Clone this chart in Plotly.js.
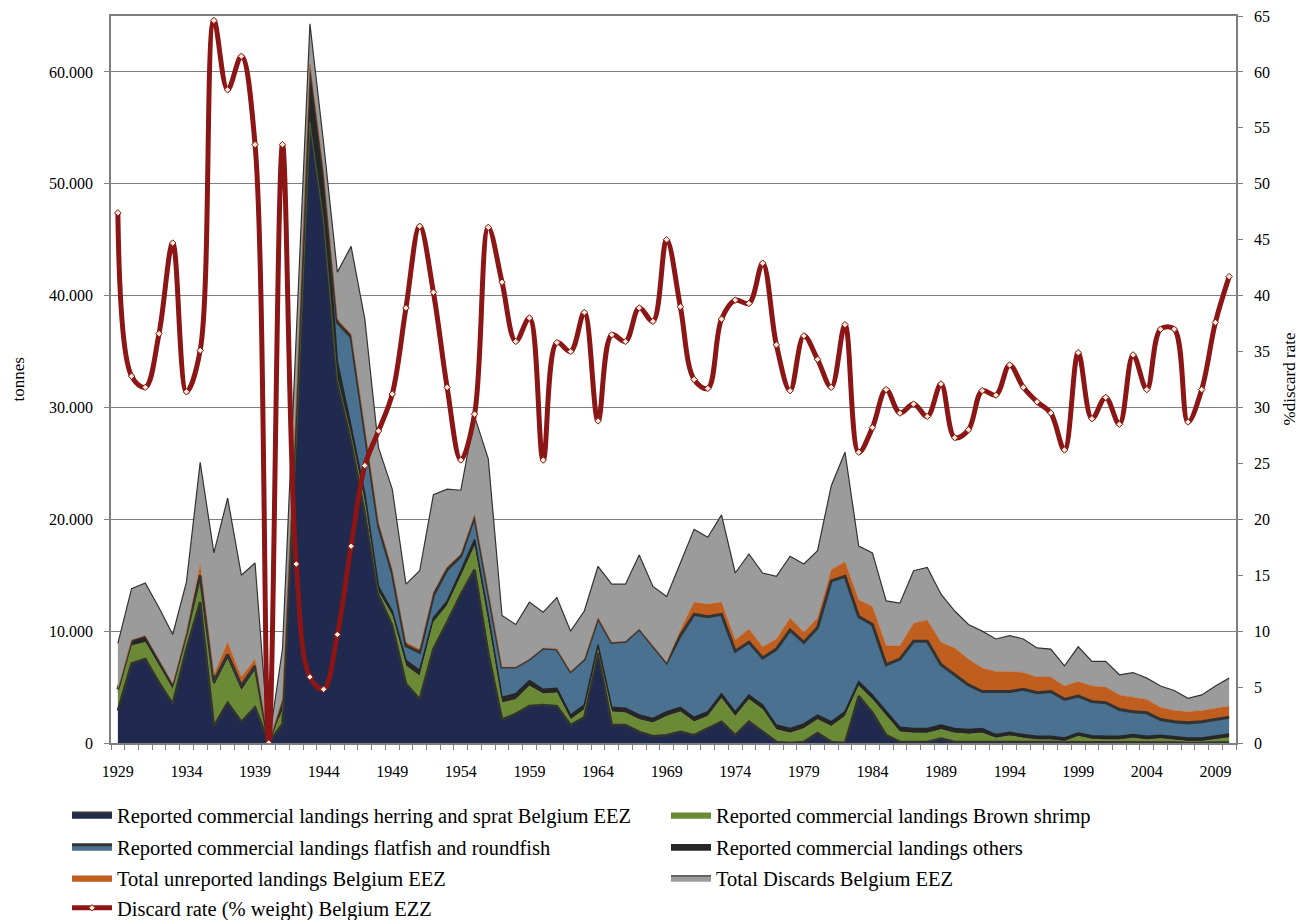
<!DOCTYPE html>
<html>
<head>
<meta charset="utf-8">
<script src="https://cdn.plot.ly/plotly-3.0.1.min.js"></script>
<style>
  html, body { margin: 0; padding: 0; background: #ffffff; }
  #chart { width: 1304px; height: 920px; }
</style>
</head>
<body>
<div id="chart"></div>
<script>
// ---------------- DATA (tonnes) ----------------
var years = [1929,1930,1931,1932,1933,1934,1935,1936,1937,1938,1939,1940,1941,1942,1943,1944,1945,1946,1947,1948,
  1949,1950,1951,1952,1953,1954,1955,1956,1957,1958,1959,1960,1961,1962,1963,1964,1965,1966,1967,1968,
  1969,1970,1971,1972,1973,1974,1975,1976,1977,1978,1979,1980,1981,1982,1983,1984,1985,1986,1987,1988,
  1989,1990,1991,1992,1993,1994,1995,1996,1997,1998,1999,2000,2001,2002,2003,2004,2005,2006,2007,2008,
  2009,2010];

var herringSprat = [2900,7100,7500,5400,3500,8400,12600,1500,3600,1900,3200,0,1700,27000,55500,46500,32300,27000,20500,13200,
  10500,5300,3900,8400,10800,13300,15500,8000,2100,2600,3300,3400,3300,1600,2300,8100,1600,1600,1000,600,
  700,1000,700,1300,1900,700,1900,1000,100,0,100,900,100,0,4200,2700,700,100,100,100,
  400,100,100,100,100,100,100,100,100,50,100,50,50,50,100,50,50,50,20,20,
  50,50];

var brownShrimp = [1600,1600,1500,1500,1300,1000,1900,3600,3900,2800,3300,0,1200,300,0,200,300,500,1000,300,
  900,1600,2100,2400,1500,1600,2100,2800,1500,1300,1800,1000,1200,500,700,300,1200,1100,1100,1200,
  1700,1800,1200,1100,2100,1700,2000,2000,1100,900,1200,1200,1400,2400,900,1200,1700,900,800,800,
  800,800,700,800,350,550,350,200,200,100,500,300,250,250,350,250,350,250,130,130,
  250,450];

var others = [300,400,500,500,400,400,400,300,300,300,300,0,1000,3000,5200,4300,1500,800,800,500,
  400,500,500,400,400,500,600,600,500,500,500,400,400,400,400,400,400,400,400,400,
  400,400,400,400,400,400,400,400,400,400,400,400,400,400,400,400,400,400,400,400,
  400,400,400,400,300,300,300,300,300,300,300,300,300,300,300,300,300,300,300,300,
  300,300];

var flatRound = [0,100,100,100,100,100,100,100,100,100,100,0,0,0,0,0,3500,8000,5500,5400,
  3400,1300,1600,2000,2800,1300,2100,2200,2700,2400,1900,3700,3500,3900,4100,2400,5800,6000,7700,6500,
  4400,6400,9200,8500,7100,5400,4700,4200,6800,8800,7300,7800,12600,12100,5800,6300,4200,6100,7800,7800,
  5400,4800,4000,3300,3850,3650,4050,3900,4000,3450,3300,3050,3000,2400,2050,2100,1400,1300,1350,1450,
  1500,1500];

var unreported = [0,0,0,0,0,0,1000,600,1100,800,600,0,0,0,0,0,300,300,300,300,
  300,300,300,300,300,200,100,100,0,0,0,0,0,0,0,0,0,0,0,0,
  0,500,1100,1100,1100,1000,1200,1000,900,1100,900,900,1000,1300,1500,1600,1700,1200,1600,1900,
  2000,2400,2300,2100,1800,1800,1500,1400,1300,1200,1300,1400,1400,1300,1300,1200,1100,1000,1000,1000,
  1000,1000];

var discards = [4100,4600,4700,4600,4400,4500,9100,10900,12900,9100,8600,0,4500,6000,3600,2600,4200,7800,9800,6700,
  7200,5200,7000,8700,6900,5700,8800,11700,4600,3800,5100,3200,4600,3600,4300,4600,5200,5100,6600,5300,
  5900,6000,6500,6000,7800,6000,6700,6600,5600,5500,6100,6000,7500,9800,4800,4800,4000,3800,4700,4700,
  4300,3300,3100,3300,2900,3200,3000,2600,2500,1800,3100,2200,2300,1800,2200,1900,1900,1800,1200,1400,
  2000,2500];

var discardRate = [47.4,32.8,31.8,36.6,44.7,31.4,35.1,64.6,58.4,61.4,53.5,0,53.5,16.0,5.9,4.8,9.7,17.6,24.8,27.9,
  31.2,38.9,46.2,40.3,31.8,25.3,29.4,46.1,41.2,35.9,38.0,25.3,35.8,35.0,38.5,28.8,36.5,35.9,38.9,37.7,
  45.0,39.0,32.5,31.7,37.9,39.6,39.3,42.9,35.6,31.5,36.4,34.3,31.8,37.4,26.0,28.2,31.6,29.5,30.3,29.2,
  32.1,27.3,28.0,31.5,31.1,33.8,31.8,30.5,29.5,26.2,34.9,29.0,30.9,28.5,34.7,31.6,37.0,37.0,28.7,31.6,
  37.6,41.7];

var xTickYears = [1929,1934,1939,1944,1949,1954,1959,1964,1969,1974,1979,1984,1989,1994,1999,2004,2009];
var xTickLabels = ['1929','1934','1939','1944','1949','1954','1959','1964','1969','1974','1979','1984','1989','1994','1999','2004','2009'];
var yTickVals = [0,10000,20000,30000,40000,50000,60000];
var yTickLabels = ['0','10.000','20.000','30.000','40.000','50.000','60.000'];

var seriesNames = [
  'Reported commercial landings herring and sprat Belgium EEZ',
  'Reported commercial landings Brown shrimp',
  'Reported commercial landings flatfish and roundfish',
  'Reported commercial landings others',
  'Total unreported landings Belgium EEZ',
  'Total Discards Belgium EEZ',
  'Discard rate (% weight) Belgium EZZ'
];
var leftAxisTitle = 'tonnes';
var rightAxisTitle = '%discard rate';

// ---------------- TRACES ----------------
var FONT = 'Liberation Serif, Times New Roman, serif';

function area(y, name, fill, lineColor, lineWidth, legendId) {
  return {
    type: 'scatter', mode: 'lines', x: years, y: y, name: name,
    stackgroup: 'catch', fillcolor: fill,
    line: {color: lineColor, width: lineWidth, shape: 'linear'},
    legend: legendId, hoverinfo: 'x+y+name'
  };
}

var traces = [
  area(herringSprat, seriesNames[0], '#1f2a4e', '#333333', 2.5, 'legend'),
  area(brownShrimp, seriesNames[1], '#6b8a35', '#6b8a35', 0.5, 'legend5'),
  area(others, seriesNames[3], '#262626', '#262626', 1.5, 'legend6'),
  area(flatRound, seriesNames[2], '#4a7290', '#333333', 3, 'legend2'),
  area(unreported, seriesNames[4], '#bf5e1f', '#bf5e1f', 0.5, 'legend3'),
  area(discards, seriesNames[5], '#9b9b9b', '#333333', 1.2, 'legend7'),
  {
    type: 'scatter', mode: 'lines+markers', x: years, y: discardRate, name: seriesNames[6],
    yaxis: 'y2', legend: 'legend4',
    line: {color: '#8c1515', width: 5, shape: 'spline', smoothing: 1},
    marker: {symbol: 'diamond', size: 5, color: '#f4ead6', line: {color: '#8c1515', width: 1}}
  }
];

function leg(x, y) {
  return {
    x: x, y: y, xref: 'container', yref: 'container', xanchor: 'left', yanchor: 'middle',
    bgcolor: 'rgba(0,0,0,0)', borderwidth: 0, itemwidth: 40,
    font: {family: FONT, size: 20.5, color: '#000000'}
  };
}

var row1 = 1 - 815/920, row2 = 1 - 847/920, row3 = 1 - 878/920, row4 = 1 - 908/920;
var col1 = 67/1304, col2 = 666/1304;

var layout = {
  width: 1304, height: 920,
  paper_bgcolor: '#ffffff', plot_bgcolor: '#ffffff',
  margin: {l: 111, r: 68, t: 16, b: 177, pad: 0, autoexpand: false},
  font: {family: FONT, size: 16, color: '#000000'},
  showlegend: true,
  legend: leg(col1, row1),
  legend2: leg(col1, row2),
  legend3: leg(col1, row3),
  legend4: leg(col1, row4),
  legend5: leg(col2, row1),
  legend6: leg(col2, row2),
  legend7: leg(col2, row3),
  xaxis: {
    range: [1928.5, 2010.5], tickmode: 'array', tickvals: xTickYears, ticktext: xTickLabels,
    ticks: 'outside', ticklen: 5, tickcolor: 'rgba(0,0,0,0)', ticklabelstandoff: 8,
    showgrid: false, zeroline: false, showline: true, linecolor: '#7f7f7f', linewidth: 1.5, mirror: true,
    tickfont: {family: FONT, size: 16, color: '#000'},
    minor: {tickmode: 'linear', tick0: 1928.5, dtick: 1, ticks: 'outside', ticklen: 5, tickcolor: '#7f7f7f', tickwidth: 1, showgrid: false},
    fixedrange: true
  },
  yaxis: {
    range: [0, 65000], tickmode: 'array', tickvals: yTickVals, ticktext: yTickLabels,
    ticks: 'outside', ticklen: 5, tickcolor: '#7f7f7f', ticklabelstandoff: 8,
    showgrid: true, gridcolor: '#7f7f7f', gridwidth: 1, zeroline: false,
    showline: true, linecolor: '#7f7f7f', linewidth: 1.5,
    tickfont: {family: FONT, size: 16, color: '#000'},
    fixedrange: true
  },
  yaxis2: {
    overlaying: 'y', side: 'right', range: [0, 65], tickmode: 'linear', tick0: 0, dtick: 5,
    ticks: 'outside', ticklen: 5, tickcolor: '#7f7f7f', ticklabelstandoff: 8,
    showgrid: false, zeroline: false, showline: true, linecolor: '#7f7f7f', linewidth: 1.5,
    tickfont: {family: FONT, size: 16, color: '#000'},
    fixedrange: true
  },
  annotations: [
    {text: leftAxisTitle, xref: 'paper', yref: 'paper', x: (18 - 111) / 1125, y: 0.5,
     xanchor: 'center', yanchor: 'middle', textangle: -90, showarrow: false,
     font: {family: FONT, size: 17, color: '#000'}},
    {text: rightAxisTitle, xref: 'paper', yref: 'paper', x: (1289 - 111) / 1125, y: 0.5,
     xanchor: 'center', yanchor: 'middle', textangle: -90, showarrow: false,
     font: {family: FONT, size: 17, color: '#000'}}
  ]
};

Plotly.newPlot('chart', traces, layout, {displayModeBar: false, staticPlot: false});
</script>
</body>
</html>
